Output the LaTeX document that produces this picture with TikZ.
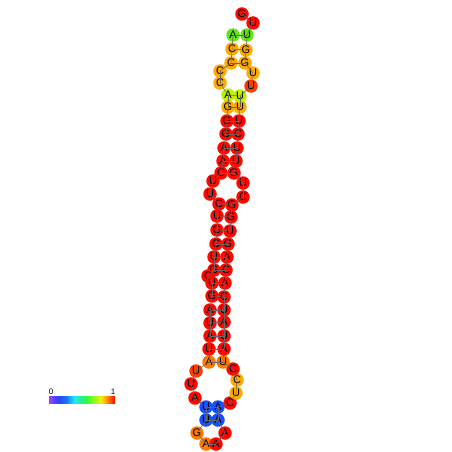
\documentclass[tikz,border=0pt]{standalone}
\usepackage{fontspec}
\setmainfont{Liberation Sans}
\definecolor{ntred}{RGB}{255,8,0}
\definecolor{ntrdor}{RGB}{255,60,0}
\definecolor{ntdor}{RGB}{255,120,0}
\definecolor{ntor}{RGB}{255,170,0}
\definecolor{ntlime}{RGB}{190,240,0}
\definecolor{ntgreen}{RGB}{100,230,20}
\definecolor{ntblue}{RGB}{20,80,255}
\begin{document}
\begin{tikzpicture}[x=1pt,y=-1pt,every node/.style={font=\fontsize{11}{11}\selectfont},
  nt/.style={circle,inner sep=0pt,minimum size=13.5pt},
  bb/.style={draw=black!60,line width=.5pt}]
\useasboundingbox (0,0) rectangle (452,452);
% left strand
\node[nt,fill=ntgreen] (n1) at (233,35) {A};\node[nt,fill=ntor] (n2) at (232,49) {C};\node[nt,fill=ntor] (n3) at (231,63) {C};
\node[nt,fill=ntor] (n4) at (220,71) {C};\node[nt,fill=ntor] (n5) at (220,83) {C};\node[nt,fill=ntlime] (n6) at (228,95) {A};
\node[nt,fill=ntor] (n7) at (228,107) {G};\node[nt,fill=ntred] (n8) at (227,121) {G};\node[nt,fill=ntred] (n9) at (226,134) {G};
\node[nt,fill=ntred] (n10) at (224,148) {A};\node[nt,fill=ntred] (n11) at (223,161) {A};\node[nt,fill=ntred] (n12) at (221,173) {C};
\node[nt,fill=ntred] (n13) at (213,181) {U};\node[nt,fill=ntred] (n14) at (210,194) {U};\node[nt,fill=ntred] (n15) at (219,204) {C};
\node[nt,fill=ntred] (n16) at (217,216) {U};\node[nt,fill=ntred] (n17) at (217,230) {G};\node[nt,fill=ntred] (n18) at (216,244) {C};
\node[nt,fill=ntred] (n19) at (214,257) {U};\node[nt,fill=ntred] (n20) at (214,270) {G};\node[nt,fill=ntred] (n21) at (208,276) {C};
\node[nt,fill=ntred] (n22) at (212,283) {U};\node[nt,fill=ntred] (n23) at (212,296) {G};\node[nt,fill=ntred] (n24) at (210,310) {A};
\node[nt,fill=ntred] (n25) at (210,323) {U};\node[nt,fill=ntred] (n26) at (210,336) {A};\node[nt,fill=ntred] (n27) at (209,349) {U};
\node[nt,fill=ntdor] (n28) at (209,362) {A};
% bottom loops
\node[nt,fill=ntrdor] (n29) at (196,371) {U};\node[nt,fill=ntred] (n30) at (191,384) {U};\node[nt,fill=ntred] (n31) at (195,398) {A};
\node[nt,fill=ntblue] (n32) at (206,407) {U};\node[nt,fill=ntblue] (n33) at (206,420) {U};\node[nt,fill=ntdor] (n34) at (197,433) {G};
\node[nt,fill=ntdor] (n35) at (206,444) {A};\node[nt,fill=ntred] (n36) at (216,444) {A};\node[nt,fill=ntred] (n37) at (225,433) {A};
\node[nt,fill=ntblue] (n38) at (218,420) {A};\node[nt,fill=ntblue] (n39) at (218,407) {A};\node[nt,fill=ntred] (n40) at (230,403) {C};
\node[nt,fill=ntor] (n41) at (236,393) {U};\node[nt,fill=ntor] (n42) at (237,380) {C};\node[nt,fill=ntred] (n43) at (233,369) {C};
% right strand
\node[nt,fill=ntdor] (n44) at (223,362) {U};\node[nt,fill=ntred] (n45) at (224,349) {A};\node[nt,fill=ntred] (n46) at (224,336) {U};
\node[nt,fill=ntred] (n47) at (224,322) {A};\node[nt,fill=ntred] (n48) at (224,310) {U};\node[nt,fill=ntred] (n49) at (224,297) {C};
\node[nt,fill=ntred] (n50) at (225,283) {A};\node[nt,fill=ntred] (n51) at (226,270) {C};\node[nt,fill=ntred] (n52) at (227,257) {A};
\node[nt,fill=ntred] (n53) at (228,244) {G};\node[nt,fill=ntred] (n54) at (230,231) {U};\node[nt,fill=ntred] (n55) at (231,217) {G};
\node[nt,fill=ntred] (n56) at (232,205) {G};\node[nt,fill=ntred] (n57) at (243,197) {C};\node[nt,fill=ntred] (n58) at (243,183) {U};
\node[nt,fill=ntred] (n59) at (234,173) {G};\node[nt,fill=ntred] (n60) at (236,161) {U};\node[nt,fill=ntred] (n61) at (237,148) {U};
\node[nt,fill=ntred] (n62) at (238,134) {C};\node[nt,fill=ntred] (n63) at (239,121) {U};\node[nt,fill=ntor] (n64) at (240,107) {U};
\node[nt,fill=ntlime] (n65) at (240,96) {U};\node[nt,fill=ntrdor] (n66) at (251,86) {U};\node[nt,fill=ntor] (n67) at (253,73) {U};
\node[nt,fill=ntor] (n68) at (245,63) {G};\node[nt,fill=ntor] (n69) at (246,50) {G};\node[nt,fill=ntgreen] (n70) at (247,35) {U};
\node[nt,fill=ntred] (n71) at (253,23) {U};\node[nt,fill=ntred] (n72) at (242,14) {G};
% backbone and pairs
\foreach \i [count=\j from 2] in {1,...,71} \draw[bb] (n\i.center)--(n\j.center);
\foreach \a/\b in {1/70,2/69,3/68,6/65,7/64,8/63,9/62,10/61,11/60,12/59,15/56,16/55,17/54,18/53,19/52,20/51,
  22/50,23/49,24/48,25/47,26/46,27/45,28/44,32/39,33/38} \draw[bb] (n\a.center)--(n\b.center);
% colour scale
\shade[left color={rgb,255:red,170;green,60;blue,255},right color={rgb,255:red,40;green,70;blue,255}] (49,396) rectangle (58,403);
\shade[left color={rgb,255:red,40;green,70;blue,255},right color={rgb,255:red,30;green,110;blue,255}] (58,396) rectangle (66,403);
\shade[left color={rgb,255:red,30;green,110;blue,255},right color={rgb,255:red,30;green,230;blue,255}] (66,396) rectangle (74,403);
\shade[left color={rgb,255:red,30;green,230;blue,255},right color={rgb,255:red,40;green,250;blue,60}] (74,396) rectangle (86,403);
\shade[left color={rgb,255:red,40;green,250;blue,60},right color={rgb,255:red,245;green,240;blue,0}] (86,396) rectangle (101,403);
\shade[left color={rgb,255:red,245;green,240;blue,0},right color={rgb,255:red,255;green,130;blue,0}] (101,396) rectangle (108,403);
\shade[left color={rgb,255:red,255;green,130;blue,0},right color={rgb,255:red,255;green,0;blue,0}] (108,396) rectangle (115,403);
\node[anchor=south,inner sep=1pt,font=\fontsize{8}{8}\selectfont] (lo) at (51,396) {0};
\node[anchor=south,inner sep=1pt,font=\fontsize{8}{8}\selectfont] (hi) at (113,396) {1};
\end{tikzpicture}
\end{document}
